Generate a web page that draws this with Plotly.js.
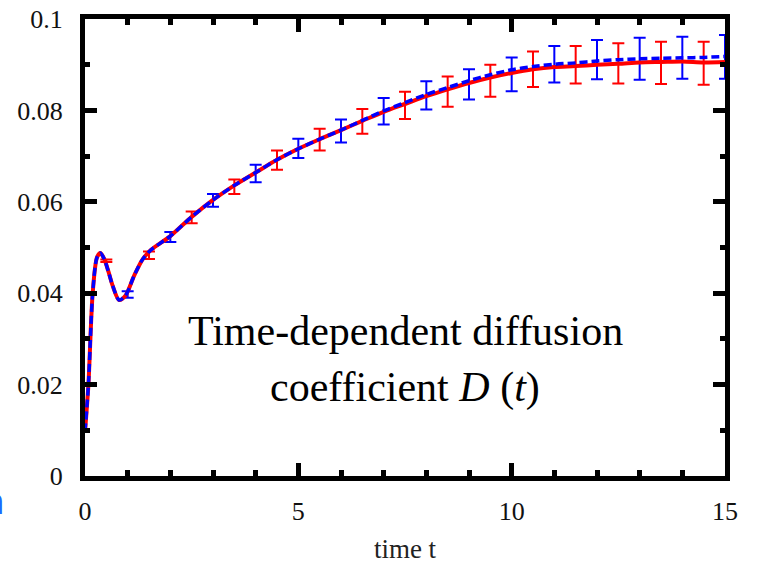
<!DOCTYPE html>
<html>
<head>
<meta charset="utf-8">
<script src="https://cdn.plot.ly/plotly-3.0.1.min.js"></script>
<style>html,body{margin:0;padding:0;background:#fff;}#chart{width:759px;height:564px;}</style>
</head>
<body>
<div id="chart"></div>
<script>
// Curves: time-dependent diffusion coefficient D(t)
const tCurve = [0, 0.08, 0.18, 0.28, 0.36, 0.45, 0.55, 0.65, 0.8, 0.95, 1.15, 1.35, 1.55, 2, 2.5, 3, 3.5, 4, 4.5, 5, 5.5, 6, 6.5, 7, 7.5, 8, 8.5, 9, 9.5, 10, 10.5, 11, 11.5, 12, 12.5, 13, 13.5, 14, 14.5, 15];
const redCurve = [0.0097, 0.020, 0.040, 0.0478, 0.0488, 0.0475, 0.0447, 0.0416, 0.0385, 0.0395, 0.0438, 0.0474, 0.0495, 0.0525, 0.0567, 0.0604, 0.0636, 0.0664, 0.0692, 0.0716, 0.0737, 0.0757, 0.0777, 0.0797, 0.0814, 0.0831, 0.0846, 0.0860, 0.0872, 0.0882, 0.0890, 0.0895, 0.0897, 0.0900, 0.0902, 0.0905, 0.0906, 0.0907, 0.0905, 0.0906];
const blueCurve = [0.0097, 0.020, 0.040, 0.0478, 0.0488, 0.0475, 0.0447, 0.0416, 0.0385, 0.0395, 0.0438, 0.0474, 0.0495, 0.0525, 0.0567, 0.0604, 0.0636, 0.0664, 0.0692, 0.0716, 0.0737, 0.0757, 0.0778, 0.0799, 0.0817, 0.0835, 0.0850, 0.0865, 0.0878, 0.0889, 0.0896, 0.0901, 0.0904, 0.0908, 0.0911, 0.0913, 0.0914, 0.0915, 0.0916, 0.0918];

// Error-bar samples
const tRed = [0.5, 1.5, 2.5, 3.5, 4.5, 5.5, 6.5, 7.5, 8.5, 9.5, 10.5, 11.5, 12.5, 13.5, 14.5];
const redMean = [0.0471, 0.0483, 0.0566, 0.0633, 0.0691, 0.0736, 0.0776, 0.0811, 0.0841, 0.0865, 0.0890, 0.0900, 0.0903, 0.0904, 0.0903];
const redErr = [0.0003, 0.0008, 0.0013, 0.0016, 0.0021, 0.0024, 0.0027, 0.0030, 0.0033, 0.0035, 0.0039, 0.0041, 0.0044, 0.0046, 0.0047];
const tBlue = [1, 2, 3, 4, 5, 6, 7, 8, 9, 10, 11, 12, 13, 14, 15];
const blueMean = [0.0397, 0.0523, 0.0603, 0.0662, 0.0717, 0.0755, 0.0798, 0.0833, 0.0857, 0.0879, 0.0901, 0.0911, 0.0913, 0.0915, 0.0917];
const blueErr = [0.0007, 0.0011, 0.0014, 0.0019, 0.0021, 0.0025, 0.0029, 0.0031, 0.0033, 0.0037, 0.0040, 0.0043, 0.0046, 0.0046, 0.0048];

// Ticks
const xTickVals = [0, 5, 10, 15];
const xTickText = ['0', '5', '10', '15'];
const yTickVals = [0, 0.02, 0.04, 0.06, 0.08, 0.1];
const yTickText = ['0', '0.02', '0.04', '0.06', '0.08', '0.1'];

const serif = 'Liberation Serif';

const traces = [
  {x: tRed, y: redMean, mode: 'markers', marker: {size: 1, color: 'rgba(0,0,0,0)'}, cliponaxis: false,
   error_y: {type: 'data', array: redErr, visible: true, color: '#ff0000', thickness: 2, width: 6}, hoverinfo: 'skip'},
  {x: tBlue, y: blueMean, mode: 'markers', marker: {size: 1, color: 'rgba(0,0,0,0)'}, cliponaxis: false,
   error_y: {type: 'data', array: blueErr, visible: true, color: '#0000ff', thickness: 2, width: 6}, hoverinfo: 'skip'},
  {x: tCurve, y: redCurve, mode: 'lines', line: {color: '#ff0000', width: 4, shape: 'spline', smoothing: 0.8}},
  {x: tCurve, y: blueCurve, mode: 'lines', line: {color: '#0000ff', width: 3.5, dash: '8px,4px', shape: 'spline', smoothing: 0.8}}
];

const layout = {
  width: 759, height: 564,
  margin: {l: 85, r: 34, t: 19, b: 88},
  paper_bgcolor: '#fff', plot_bgcolor: '#fff',
  showlegend: false,
  font: {family: serif, color: '#000'},
  xaxis: {
    range: [0, 15], showgrid: false, zeroline: false,
    showline: true, linecolor: '#000', linewidth: 5, mirror: 'ticks',
    ticks: 'inside', ticklen: 13, tickwidth: 5, tickcolor: '#000',
    tickvals: xTickVals, ticktext: xTickText,
    tickfont: {family: serif, size: 26, color: '#111'},
    ticklabelstandoff: 8,
    minor: {dtick: 1, ticks: 'inside', ticklen: 6, tickwidth: 5, tickcolor: '#000'},
    title: {text: 'time t', font: {family: serif, size: 27, color: '#222'}, standoff: 15}
  },
  yaxis: {
    range: [0, 0.1], showgrid: false, zeroline: false,
    showline: true, linecolor: '#000', linewidth: 5, mirror: 'ticks',
    ticks: 'inside', ticklen: 12, tickwidth: 5, tickcolor: '#000',
    tickvals: yTickVals, ticktext: yTickText,
    tickfont: {family: serif, size: 26, color: '#111'},
    ticklabelstandoff: 12,
    minor: {dtick: 0.01, ticks: 'inside', ticklen: 5, tickwidth: 5, tickcolor: '#000'}
  },
  annotations: [
    {xref: 'paper', yref: 'paper', x: 0.5, y: 0.317, xanchor: 'center', yanchor: 'middle', showarrow: false,
     text: 'Time-dependent diffusion', font: {family: serif, size: 42, color: '#000'}},
    {xref: 'paper', yref: 'paper', x: 0.5, y: 0.193, xanchor: 'center', yanchor: 'middle', showarrow: false,
     text: 'coefficient <i>D</i> (<i>t</i>)', font: {family: serif, size: 42, color: '#000'}},
    {xref: 'paper', yref: 'paper', x: -0.124, y: -0.055, xanchor: 'right', yanchor: 'middle', showarrow: false,
     text: '<b>n</b>', font: {family: 'Liberation Sans', size: 36, color: '#1a6bff'}}
  ]
};

Plotly.newPlot('chart', traces, layout, {staticPlot: true, displayModeBar: false});
</script>
</body>
</html>
